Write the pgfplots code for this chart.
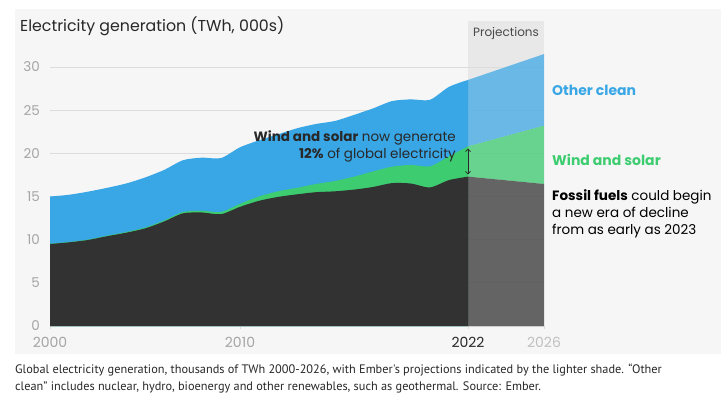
\documentclass[border=0pt]{standalone}
\usepackage{fontspec}
\setmainfont{Poppins}
\newfontfamily\capfont{PT Sans}
\usepackage{pgfplots}
\usepackage{pgfplotstable}
\pgfplotsset{compat=1.18}
\usetikzlibrary{arrows.meta}
\definecolor{ocblue}{RGB}{57,166,229}
\definecolor{wsgreen}{RGB}{61,205,112}
\definecolor{fossil}{RGB}{50,50,50}
\definecolor{panel}{RGB}{246,246,246}
\definecolor{band}{RGB}{232,232,232}
\definecolor{gridc}{RGB}{220,220,220}
\definecolor{tickc}{RGB}{165,165,165}
\definecolor{txt}{RGB}{40,40,40}

\pgfplotstableread{
year fossil ws total
2000 9.50 9.53 15.00
2001 9.69 9.73 15.20
2002 9.96 10.01 15.56
2003 10.40 10.46 16.00
2004 10.80 10.88 16.50
2005 11.30 11.40 17.20
2006 12.10 12.22 18.07
2007 13.05 13.20 19.20
2008 13.15 13.35 19.50
2009 12.95 13.20 19.45
2010 13.80 14.15 20.70
2011 14.50 15.00 21.50
2012 14.95 15.60 22.20
2013 15.25 16.00 22.90
2014 15.50 16.45 23.40
2015 15.60 16.80 23.75
2016 15.80 17.30 24.45
2017 16.10 17.90 25.20
2018 16.55 18.45 26.05
2019 16.50 18.65 26.25
2020 16.05 18.50 26.20
2021 16.90 19.65 27.70
2022 17.30 20.80 28.50
}\hist

\begin{document}
\begin{tikzpicture}[x=1pt,y=1pt]
\fill[white] (0,0) rectangle (721,405);
\fill[panel] (15,51) rectangle (721,396);
\fill[band] (468,79) rectangle (544,384);
\begin{axis}[
  at={(50pt,79pt)}, anchor=south west,
  scale only axis, width=494pt, height=259pt,
  xmin=2000, xmax=2026, ymin=0, ymax=30,
  clip=false,
  axis lines*=left,
  x axis line style={draw=gridc, line width=0.8pt},
  y axis line style={draw=none},
  ytick={0,5,...,30},
  ymajorgrids,
  grid style={draw=gridc, line width=0.8pt},
  ytick style={draw=none},
  xtick={2000,2010,2022,2026},
  xticklabels={2000,2010,{\color{txt}2022},{\color{tickc!70}2026}},
  xtick style={draw=gridc, line width=0.8pt},
  tick align=outside,
  major tick length=3pt,
  /pgf/number format/assume math mode=true,
  yticklabel style={font=\fontsize{13.5}{15}\selectfont, text=tickc, inner sep=0pt, xshift=-7pt},
  xticklabel style={font=\fontsize{14}{16}\selectfont, text=tickc, inner sep=0pt, yshift=-8pt},
]
\addplot[fill=ocblue, draw=none, smooth, tension=0.45] table[x=year, y=total] {\hist} \closedcycle;
\addplot[fill=wsgreen, draw=none, smooth, tension=0.45] table[x=year, y=ws] {\hist} \closedcycle;
\addplot[fill=fossil, draw=none, smooth, tension=0.45] table[x=year, y=fossil] {\hist} \closedcycle;
\addplot[fill=ocblue, fill opacity=0.72, draw=none] coordinates {(2022,20.8) (2026,23.2) (2026,31.5) (2022,28.5)} -- cycle;
\addplot[fill=wsgreen, fill opacity=0.75, draw=none] coordinates {(2022,17.3) (2026,16.45) (2026,23.2) (2022,20.8)} -- cycle;
\addplot[fill=fossil, fill opacity=0.72, draw=none] coordinates {(2022,0) (2026,0) (2026,16.45) (2022,17.3)} -- cycle;
\draw[{Straight Barb[length=2.5pt]}-{Straight Barb[length=2.5pt]}, txt, line width=0.7pt] (axis cs:2022,17.55) -- (axis cs:2022,20.55);
\end{axis}
\node[anchor=west, inner sep=0pt, text=txt, font=\fontsize{15.8}{18}\selectfont] at (20,379) {Electricity generation (TWh, 000s)};
\node[inner sep=0pt, text=txt!85, font=\fontsize{12}{14}\selectfont] at (506,372) {Projections};
\node[anchor=east, align=right, inner sep=0pt, text=txt, font=\fontsize{13.5}{17}\selectfont] at (456,258.5) {\textbf{Wind and solar} now generate\\\textbf{12\%} of global electricity};
\node[anchor=west, inner sep=0pt, text=ocblue, font=\fontsize{14}{16}\selectfont\bfseries] at (552,315) {Other clean};
\node[anchor=west, inner sep=0pt, text=wsgreen, font=\fontsize{14}{16}\selectfont\bfseries] at (552,245) {Wind and solar};
\node[anchor=west, align=left, inner sep=0pt, text=black, font=\fontsize{13.5}{16.7}\selectfont] at (552,191) {\textbf{Fossil fuels} could begin\\a new era of decline\\from as early as 2023};
\node[anchor=west, inner sep=0pt, text=txt, font=\capfont\fontsize{12.3}{14}\selectfont] at (15,35) {Global electricity generation, thousands of TWh 2000-2026, with Ember's projections indicated by the lighter shade. “Other};
\node[anchor=west, inner sep=0pt, text=txt, font=\capfont\fontsize{12.3}{14}\selectfont] at (15,18) {clean” includes nuclear, hydro, bioenergy and other renewables, such as geothermal. Source: Ember.};
\end{tikzpicture}
\end{document}
